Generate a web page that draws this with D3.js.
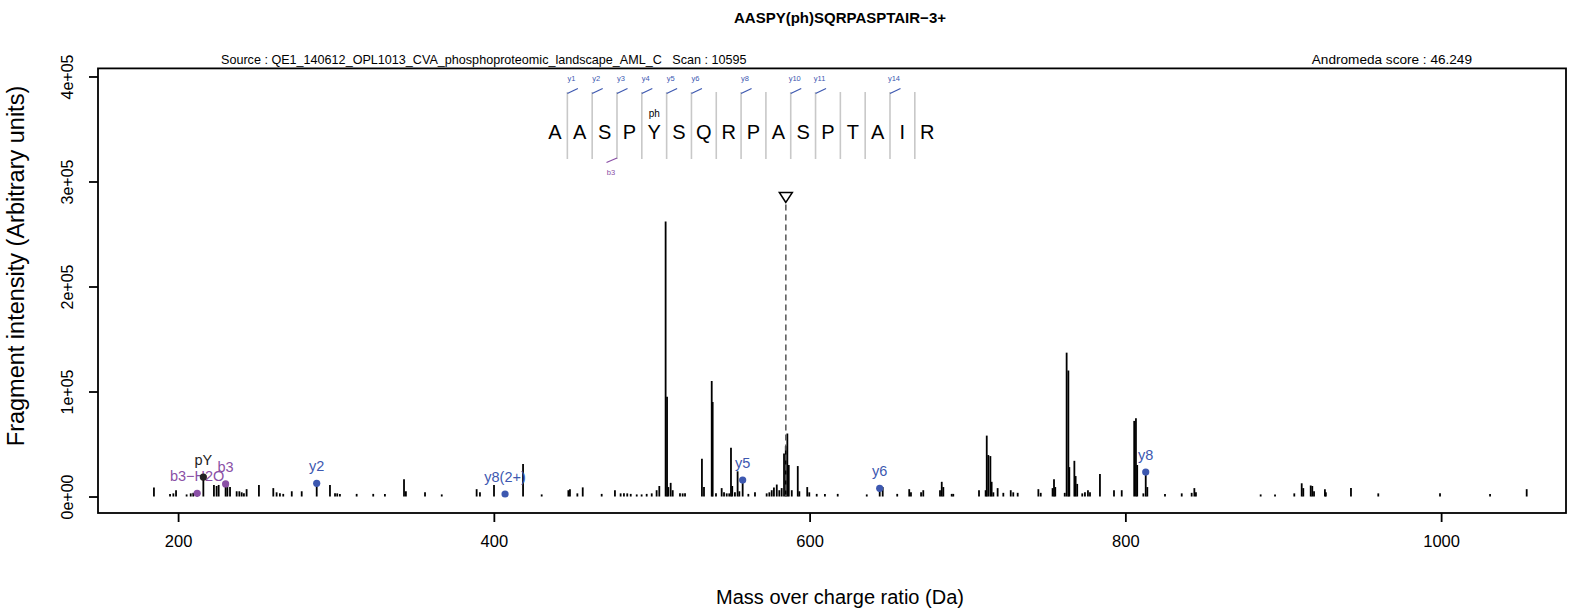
<!DOCTYPE html>
<html>
<head>
<meta charset="utf-8">
<script src="https://cdn.jsdelivr.net/npm/d3@7"></script>
<style>
  body { margin: 0; background: #fff; }
  svg text { font-family: "Liberation Sans", Arial, sans-serif; }
</style>
</head>
<body>
<svg width="1578" height="609"></svg>
<script>
// ---- data ----
const peakMz = [184.7, 194.9, 197.0, 198.7, 205.4, 208.0, 209.6, 222.7, 224.4, 225.7, 231.2, 232.9,
  237.1, 238.8, 240.3, 241.7, 243.4, 251.2, 260.3, 262.4, 264.5, 266.6, 272.0, 278.3, 296.2, 299.4,
  300.8, 302.5, 313.1, 323.6, 331.0, 343.1, 344.3, 356.4, 367.0, 389.1, 391.2, 400.1, 418.5, 430.3,
  447.2, 448.2, 452.9, 456.3, 468.3, 476.7, 480.3, 482.4, 484.5, 486.7, 490.5, 493.6, 496.8, 500.0,
  503.1, 504.8, 508.8, 509.7, 510.5, 512.0, 513.3, 517.9, 519.6, 521.1, 531.8, 533.1, 538.0, 538.6,
  540.7, 544.3, 545.8, 547.5, 549.1, 550.2, 551.0, 552.7, 554.4, 555.5, 561.2, 565.4, 572.8, 574.5,
  576.0, 577.4, 579.2, 580.8, 582.3, 583.8, 584.9, 585.9, 586.8, 588.7, 592.5, 593.5, 598.5, 599.8,
  604.5, 609.7, 617.8, 636.2, 646.3, 655.5, 663.1, 664.2, 670.6, 672.0, 682.6, 683.7, 684.7, 690.0,
  691.0, 707.3, 711.5, 712.2, 713.2, 714.5, 715.3, 716.4, 719.1, 722.7, 727.4, 729.0, 731.8, 744.9,
  746.4, 753.9, 754.8, 755.6, 761.6, 762.8, 763.9, 764.5, 767.7, 768.5, 769.5, 772.7, 774.4, 776.3,
  777.6, 783.9, 792.8, 797.7, 805.6, 806.7, 807.5, 811.4, 813.9, 825.1, 835.7, 842.0, 843.7, 844.7,
  885.7, 894.8, 907.0, 911.7, 912.7, 917.4, 918.4, 919.5, 926.4, 927.0, 942.9, 960.2, 999.3, 1031.0,
  1054.2];
const peakInt = [8500, 2500, 3000, 6000, 2000, 3000, 3500, 11000, 10000, 11000, 10000, 9000,
  5000, 5000, 4000, 3000, 7000, 11000, 8000, 4000, 3000, 2500, 5000, 5000, 11000, 3000,
  3000, 2500, 2500, 2500, 2500, 16400, 5000, 4000, 2000, 7000, 4000, 11000, 31000, 2000,
  6000, 7000, 3000, 8700, 2500, 6000, 3000, 3000, 3000, 2500, 2000, 2000, 2500, 3000,
  6000, 10000, 262000, 95000, 9000, 13000, 6000, 3000, 3000, 3000, 36000, 9000, 110000, 90000,
  3000, 8000, 4000, 3000, 3000, 46500, 10000, 4000, 24000, 5000, 2500, 4000, 3000, 4000,
  6000, 8500, 11400, 6000, 8000, 41000, 48000, 60000, 30000, 6000, 29000, 5000, 9000, 4000,
  2500, 2500, 2500, 2000, 9000, 2500, 7000, 4000, 4000, 6000, 6000, 14000, 9000, 2500,
  2500, 6000, 6000, 58000, 39500, 38500, 14000, 4000, 8000, 3500, 6000, 4000, 3500, 7000,
  3500, 8000, 16400, 9000, 3500, 137000, 120000, 28000, 34000, 19500, 12000, 3000, 4000, 6000,
  4000, 21400, 6000, 6000, 72000, 74500, 30000, 3000, 9000, 2500, 3000, 3500, 8000, 4000,
  2000, 2000, 3000, 12600, 8000, 10500, 10000, 5000, 7000, 4000, 8000, 3000, 3000, 2500,
  7000];

// annotated fragment ions
const ionLabels = ['b3\u2212H2O', 'pY', 'b3', 'y2', 'y8(2+)', 'y5', 'y6', 'y8'];
const ionMz = [212.1, 216.0, 230.1, 287.8, 407.1, 557.6, 644.4, 812.9];
const ionInt = [3000, 18600, 12000, 12600, 2400, 15700, 7800, 23300];
const ionType = ['b', 'imm', 'b', 'y', 'y', 'y', 'y', 'y'];

// peptide sequence + fragment coverage
const residues = 'AASPYSQRPASPTAIR'.split('');
const yIonSites = [1, 2, 3, 4, 5, 6, 8, 10, 11, 14];
const bIonSites = [3];
const modIndex = 4;
const modLabel = 'ph';

// precursor
const precursorMz = 584.95;
const precursorMark = 280000;

const xTicks = [200, 400, 600, 800, 1000];
const yTicks = [0, 100000, 200000, 300000, 400000];
const yTickLabels = ['0e+00', '1e+05', '2e+05', '3e+05', '4e+05'];

const titleText = 'AASPY(ph)SQRPASPTAIR\u22123+';
const sourceText = 'Source : QE1_140612_OPL1013_CVA_phosphoproteomic_landscape_AML_C   Scan : 10595';
const scoreText = 'Andromeda score : 46.249';

// ---- layout ----
const svg = d3.select('svg');
const width = +svg.attr('width');
const height = +svg.attr('height');
const margin = { left: 98, top: 68.4, right: 12, bottom: 96 };
const innerW = width - margin.left - margin.right;
const innerH = height - margin.top - margin.bottom;

const colY = '#3d58b0';
const colB = '#8a4fa6';
const ionColor = t => t === 'y' ? colY : t === 'b' ? colB : '#222';

const xScale = d3.scaleLinear().domain([149.27, 1079.1]).range([0, innerW]);
const yScale = d3.scaleLinear().domain([-15700, 407700]).range([innerH, 0]);

const g = svg.append('g').attr('transform', `translate(${margin.left},${margin.top})`);

// peaks
g.selectAll('line.peak').data(d3.range(peakMz.length))
  .enter().append('line')
    .attr('class', 'peak')
    .attr('x1', i => xScale(peakMz[i])).attr('x2', i => xScale(peakMz[i]))
    .attr('y1', yScale(0)).attr('y2', i => yScale(peakInt[i]))
    .attr('stroke', '#000').attr('stroke-width', 1.8);

// precursor marker
const px = xScale(precursorMz);
g.append('line')
  .attr('x1', px).attr('x2', px)
  .attr('y1', yScale(precursorMark) + 2).attr('y2', yScale(0))
  .attr('stroke', '#555').attr('stroke-width', 1.5).attr('stroke-dasharray', '6,4');
const ty = yScale(precursorMark);
g.append('path')
  .attr('d', `M${px},${ty} L${px - 6.5},${ty - 10} L${px + 6.5},${ty - 10} Z`)
  .attr('fill', '#fff').attr('stroke', '#000').attr('stroke-width', 1.5);

// annotated ions
const ions = g.selectAll('g.ion').data(d3.range(ionMz.length)).enter().append('g').attr('class', 'ion');
ions.append('line')
  .attr('x1', i => xScale(ionMz[i])).attr('x2', i => xScale(ionMz[i]))
  .attr('y1', yScale(0)).attr('y2', i => yScale(ionInt[i]))
  .attr('stroke', '#000').attr('stroke-width', 1.8);
ions.append('circle')
  .attr('cx', i => xScale(ionMz[i])).attr('cy', i => yScale(ionInt[i]))
  .attr('r', 3.6).attr('fill', i => ionColor(ionType[i]));
ions.append('text')
  .attr('x', i => xScale(ionMz[i])).attr('y', i => yScale(ionInt[i]) - 12)
  .attr('text-anchor', 'middle').attr('font-size', 14.5)
  .attr('fill', i => ionColor(ionType[i]))
  .text(i => ionLabels[i]);

// axes
const yAxis = d3.axisLeft(yScale).tickValues(yTicks).tickFormat((d, i) => yTickLabels[i]).tickSize(9);
const yAxisG = g.append('g').call(yAxis);
yAxisG.select('.domain').remove();
yAxisG.selectAll('line').attr('stroke-width', 1.8);
yAxisG.selectAll('text')
  .attr('x', 0).attr('dy', 0).attr('text-anchor', 'middle')
  .attr('transform', 'translate(-25.5,0) rotate(-90)')
  .attr('font-size', 16).attr('fill', '#000');

const xAxis = d3.axisBottom(xScale).tickValues(xTicks).tickFormat(d3.format('d')).tickSize(9);
const xAxisG = g.append('g').attr('transform', `translate(0,${innerH})`).call(xAxis);
xAxisG.select('.domain').remove();
xAxisG.selectAll('line').attr('stroke-width', 1.8);
xAxisG.selectAll('text').attr('y', 34).attr('dy', 0).attr('font-size', 16.5).attr('fill', '#000');

// plot box
g.append('rect').attr('width', innerW).attr('height', innerH)
  .attr('fill', 'none').attr('stroke', '#000').attr('stroke-width', 1.8);

// sequence annotation
const seqStart = xScale(438.7);
const seqStep = xScale(438.7 + 15.72) - seqStart;
const seqBase = 139 - margin.top;
const seq = g.append('g');
seq.selectAll('text.res').data(residues).enter().append('text')
  .attr('x', (d, i) => seqStart + i * seqStep).attr('y', seqBase)
  .attr('text-anchor', 'middle').attr('font-size', 20).text(d => d);
const sepX = k => seqStart + (k - 0.5) * seqStep;
seq.selectAll('line.sep').data(d3.range(1, residues.length)).enter().append('line')
  .attr('x1', sepX).attr('x2', sepX)
  .attr('y1', seqBase - 47).attr('y2', seqBase + 20)
  .attr('stroke', '#c8c8c8').attr('stroke-width', 1.6);
seq.selectAll('line.yi').data(yIonSites).enter().append('line')
  .attr('x1', sepX).attr('x2', k => sepX(k) + 10.5)
  .attr('y1', seqBase - 45.5).attr('y2', seqBase - 50.5)
  .attr('stroke', colY).attr('stroke-width', 1.2);
seq.selectAll('text.yi').data(yIonSites).enter().append('text')
  .attr('x', k => sepX(k) + 4).attr('y', seqBase - 58)
  .attr('text-anchor', 'middle').attr('font-size', 7.5).attr('fill', colY)
  .text(k => 'y' + k);
seq.selectAll('line.bi').data(bIonSites).enter().append('line')
  .attr('x1', sepX).attr('x2', k => sepX(k) - 10.5)
  .attr('y1', seqBase + 19).attr('y2', seqBase + 23.5)
  .attr('stroke', colB).attr('stroke-width', 1.2);
seq.selectAll('text.bi').data(bIonSites).enter().append('text')
  .attr('x', k => sepX(k) - 6).attr('y', seqBase + 36)
  .attr('text-anchor', 'middle').attr('font-size', 7.5).attr('fill', colB)
  .text(k => 'b' + k);
seq.append('text')
  .attr('x', seqStart + modIndex * seqStep).attr('y', seqBase - 21.5)
  .attr('text-anchor', 'middle').attr('font-size', 10).text(modLabel);

// titles
svg.append('text').attr('x', 840).attr('y', 23)
  .attr('text-anchor', 'middle').attr('font-size', 15).attr('font-weight', 'bold')
  .text(titleText);
svg.append('text').attr('x', 221).attr('y', 64).attr('font-size', 12.6)
  .style('white-space', 'pre').text(sourceText);
svg.append('text').attr('x', 1472).attr('y', 64).attr('text-anchor', 'end').attr('font-size', 13.6)
  .text(scoreText);
svg.append('text').attr('x', 840).attr('y', 604)
  .attr('text-anchor', 'middle').attr('font-size', 20)
  .text('Mass over charge ratio (Da)');
svg.append('text')
  .attr('transform', 'translate(24,266) rotate(-90)')
  .attr('text-anchor', 'middle').attr('font-size', 23.5)
  .text('Fragment intensity (Arbitrary units)');
</script>
</body>
</html>
